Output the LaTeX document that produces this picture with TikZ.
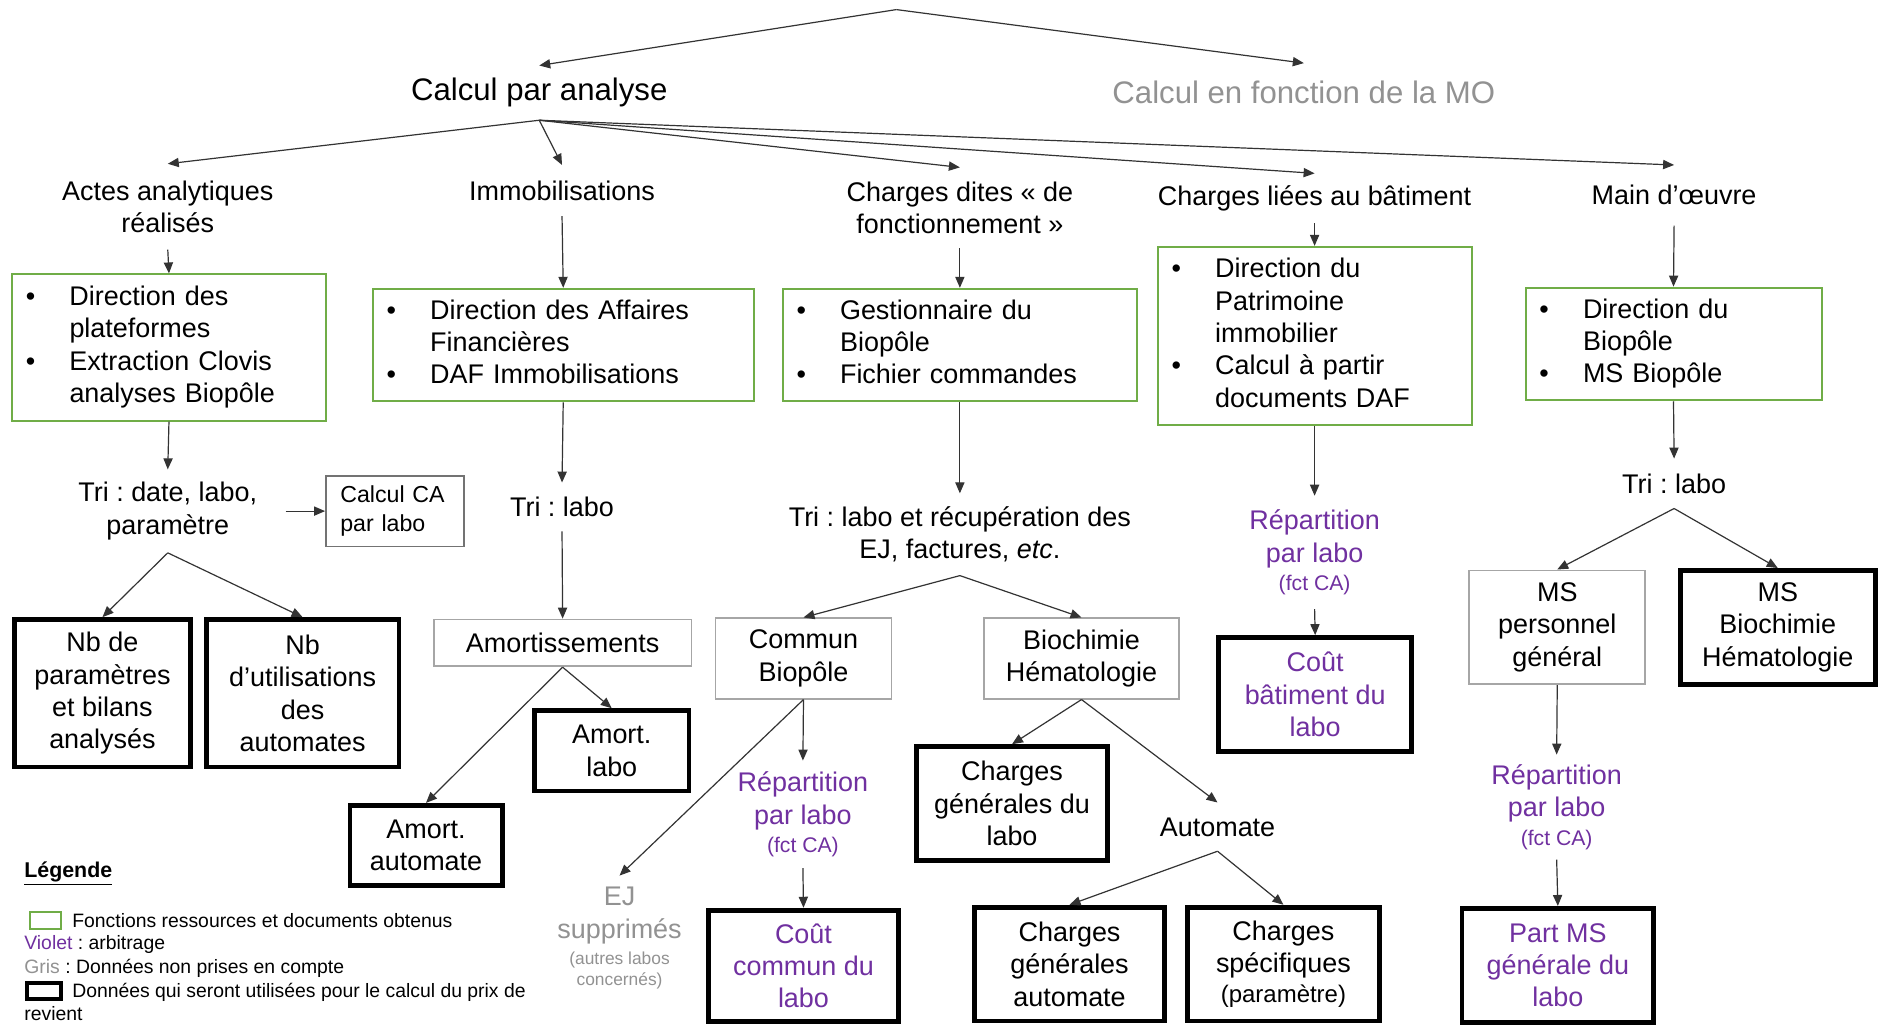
\documentclass[tikz,border=0pt]{standalone}
\usepackage{fontspec}
\setmainfont{Liberation Sans}
\usetikzlibrary{arrows.meta}
\frenchspacing

\definecolor{vert}{HTML}{70AD47}
\definecolor{viol}{HTML}{7030A0}
\definecolor{gris}{HTML}{929292}
\definecolor{grisbord}{HTML}{A6A6A6}

\newcommand{\petit}[1]{{\fontsize{10.6}{12}\selectfont #1}}
\newcommand{\tout}[1]{{\fontsize{8.7}{10}\selectfont #1}}
\newcommand{\liste}[1]{\noindent\begin{tabular}{@{}p{21.8pt}@{}l@{}}#1\end{tabular}}

\begin{document}
\begin{tikzpicture}[x=0.6pt,y=-0.6pt,
    >={Triangle[length=5.5pt,width=4.6pt]},
    every node/.style={inner sep=0pt, align=center, font=\fontsize{13.5}{16.2}\selectfont},
    titre/.style={font=\fontsize{15.6}{18.7}\selectfont},
    src/.style={draw=vert, line width=1pt, inner xsep=7pt, align=left},
    drop/.style={draw=grisbord, line width=0.9pt},
    res/.style={draw=black, line width=2.4pt},
    arb/.style={text=viol},
    leg/.style={anchor=west, font=\fontsize{9.7}{11.6}\selectfont},
    fl/.style={->, color=black!80, line width=0.6pt}]

    \fill[white] (0,0) rectangle (1568,855);
    \useasboundingbox (0,0) rectangle (1568,855);

    \coordinate (top) at (748,8);
    \node[titre, minimum height=27pt] (calc_a) at (450,77.5) {Calcul par analyse};
    \node[titre, minimum height=28.8pt, text=gris] (calc_mo) at (1088,77) {Calcul en fonction de la MO};

    % branches
    \node[minimum height=42.6pt] (actes) at (140,172.5) {Actes analytiques\\réalisés};
    \node[minimum height=25.2pt] (immo) at (469,159) {Immobilisations};
    \node[minimum height=40.2pt] (ch_f) at (801,173.5) {Charges dites « de\\fonctionnement »};
    \node[minimum height=24.6pt] (ch_b) at (1097,165.5) {Charges liées au bâtiment};
    \node[minimum height=30pt] (mo) at (1397,163) {Main d’œuvre};

    % sources
    \node[src, text width=143.2pt, minimum height=73.2pt] (g_1) at (141,290)
        {\liste{\textbullet & Direction des\\ & plateformes\\ \textbullet & Extraction Clovis\\ & analyses Biopôle}};
    \node[src, text width=176.8pt, minimum height=56.4pt] (g_2) at (470,288)
        {\liste{\textbullet & Direction des Affaires\\ & Financières\\ \textbullet & DAF Immobilisations}};
    \node[src, text width=163.6pt, minimum height=56.4pt] (g_3) at (801,288)
        {\liste{\textbullet & Gestionnaire du\\ & Biopôle\\ \textbullet & Fichier commandes}};
    \node[src, text width=143.2pt, minimum height=89.4pt] (g_4) at (1097,280.5)
        {\liste{\textbullet & Direction du\\ & Patrimoine\\ & immobilier\\ \textbullet & Calcul à partir\\ & documents DAF}};
    \node[src, text width=134.2pt, minimum height=56.4pt] (g_5) at (1396.5,287)
        {\liste{\textbullet & Direction du\\ & Biopôle\\ \textbullet & MS Biopôle}};

    % tris
    \node[minimum width=117.6pt, minimum height=41.4pt] (tri_1) at (140,426.5) {Tri : date, labo,\\paramètre};
    \node[draw=black!55, line width=0.9pt, text width=54.6pt, inner xsep=7.2pt, minimum height=35.4pt,
          align=left, font=\fontsize{11.6}{14.4}\selectfont] (calc_ca) at (329.5,426.5) {Calcul CA\\par labo};
    \node[minimum height=24pt] (tri_2) at (469,423) {Tri : labo};
    \node[minimum height=40.8pt] (tri_3) at (801,446) {Tri : labo et récupération des\\EJ, factures, \textit{etc}.};
    \node[arb, minimum height=56.4pt] (rep_2) at (1097,461) {Répartition\\par labo\\[-2pt]\petit{(fct CA)}};
    \node[minimum height=24.6pt] (tri_5) at (1397,403.5) {Tri : labo};

    % actes
    \node[res, minimum width=88.2pt, minimum height=73.8pt] (nb_p) at (85.5,578.5) {Nb de\\paramètres\\et bilans\\analysés};
    \node[res, minimum width=96.6pt, minimum height=73.8pt] (nb_u) at (252.5,578.5) {Nb\\d’utilisations\\des\\automates};

    % immobilisations
    \node[drop, minimum width=129pt, minimum height=23.4pt] (amort) at (469.5,536.5) {Amortissements};
    \node[res, minimum width=77.4pt, minimum height=40.2pt] (am_l) at (510.5,626.5) {Amort.\\labo};
    \node[res, minimum width=76.2pt, minimum height=40.2pt] (am_a) at (355.5,705.5) {Amort.\\automate};

    % fonctionnement
    \node[drop, minimum width=88.2pt, minimum height=40.2pt] (commun) at (670.5,549.5) {Commun\\Biopôle};
    \node[drop, minimum width=97.8pt, minimum height=40.2pt] (bio_h) at (902.5,549.5) {Biochimie\\Hématologie};
    \node[arb, minimum height=53.4pt] (rep_1) at (670,679.5) {Répartition\\par labo\\[-2pt]\petit{(fct CA)}};
    \node[text=gris, minimum height=62.4pt] (ej) at (517,783) {EJ\\supprimés\\[-3pt]\tout{(autres labos}\\[-5.4pt]\tout{concernés)}};
    \node[res, arb, minimum width=95.4pt, minimum height=55.8pt] (ct_c) at (670.5,806) {Coût\\commun du\\labo};
    \node[res, minimum width=95.4pt, minimum height=57pt] (cg_l) at (844.5,670.5) {Charges\\générales du\\labo};
    \node[minimum height=24pt] (auto) at (1016,690) {Automate};
    \node[res, minimum width=95.4pt, minimum height=57pt] (cg_a) at (892.5,804.5) {Charges\\générales\\automate};
    \node[res, minimum width=96pt, minimum height=57pt] (cs_p) at (1071,804.5)
        {Charges\\spécifiques\\[-1pt]{\fontsize{12}{14}\selectfont (paramètre)}};

    % batiment
    \node[res, arb, minimum width=96.6pt, minimum height=57pt] (ct_b) at (1097.5,579.5) {Coût\\bâtiment du\\labo};

    % main d'oeuvre
    \node[drop, minimum width=88.2pt, minimum height=57pt] (ms_pg) at (1299.5,523.5) {MS\\personnel\\général};
    \node[res, minimum width=97.8pt, minimum height=57pt] (ms_bh) at (1483.5,523.5) {MS\\Biochimie\\Hématologie};
    \node[arb, minimum height=52.2pt] (rep_3) at (1299,673.5) {Répartition\\par labo\\[-2pt]\petit{(fct CA)}};
    \node[res, arb, minimum width=96pt, minimum height=57pt] (part_ms) at (1300,805.5) {Part MS\\générale du\\labo};

    % legende
    \node[anchor=west, font=\fontsize{10.7}{12.8}\selectfont\bfseries] (leg_t) at (20,729) {\underline{Légende}};
    \node[draw=vert, line width=1pt, minimum width=15.6pt, minimum height=8.4pt] (leg_g) at (38,768) {};
    \node[leg] (leg_gt) at (60,768) {Fonctions ressources et documents obtenus};
    \node[leg] (leg_v) at (20,788) {\textcolor{viol}{Violet} : arbitrage};
    \node[leg] (leg_gr) at (20,808) {\textcolor{gris}{Gris} : Données non prises en compte};
    \node[draw=black, line width=2pt, minimum width=16.8pt, minimum height=7.8pt] (leg_b) at (36.5,827) {};
    \node[leg] (leg_bt) at (60,828) {Données qui seront utilisées pour le calcul du prix de};
    \node[leg] (leg_r) at (20,846) {revient};

    \path[fl]
    (top) edge (calc_a.north)
          edge (calc_mo.north)
    (calc_a.south) edge (actes.north)
                   edge (immo.north)
                   edge (ch_f.north)
                   edge (ch_b.north)
                   edge (mo.north)
    (actes.south) edge (g_1.north)
    (immo.south) edge (g_2.north)
    (ch_f.south) edge (g_3.north)
    (ch_b.south) edge (g_4.north)
    (mo.south) edge (g_5.north)
    (g_1.south) edge (tri_1.north)
    (g_2.south) edge (tri_2.north)
    (g_3.south) edge (tri_3.north)
    (g_4.south) edge (rep_2.north)
    (g_5.south) edge (tri_5.north)
    (tri_1.east) edge (calc_ca.west)
    (tri_1.south) edge (nb_p.north)
                  edge (nb_u.north)
    (tri_2.south) edge (amort.north)
    (amort.south) edge (am_l.north)
                  edge (am_a.north)
    (tri_3.south) edge (commun.north)
                  edge (bio_h.north)
    (commun.south) edge (rep_1.north)
                   edge (ej.north)
    (rep_1.south) edge (ct_c.north)
    (bio_h.south) edge (cg_l.north)
                  edge (auto.north)
    (auto.south) edge (cg_a.north)
                 edge (cs_p.north)
    (rep_2.south) edge (ct_b.north)
    (tri_5.south) edge (ms_pg.north)
                  edge (ms_bh.north)
    (ms_pg.south) edge (rep_3.north)
    (rep_3.south) edge (part_ms.north);

\end{tikzpicture}
\end{document}
